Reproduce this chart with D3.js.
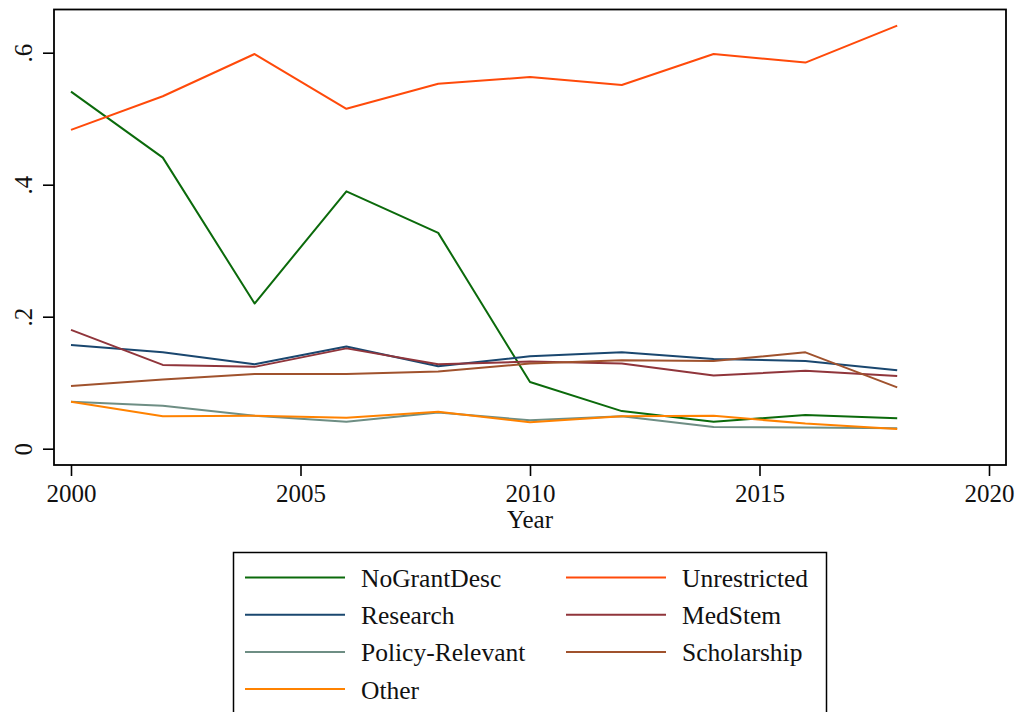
<!DOCTYPE html>
<html>
<head>
<meta charset="utf-8">
<script src="https://cdn.jsdelivr.net/npm/d3@7"></script>
<style>
  html, body { margin: 0; padding: 0; background: #fff; }
  .serif { font-family: "Liberation Serif", "Times New Roman", "DejaVu Serif", serif; }
</style>
</head>
<body>
<svg id="chart" width="1020" height="712"></svg>
<script>
// Survey years
const years = [2000, 2002, 2004, 2006, 2008, 2010, 2012, 2014, 2016, 2018];

// Share of grants by purpose, one array per category
const noGrantDesc    = [0.541, 0.441, 0.220, 0.390, 0.327, 0.101, 0.057, 0.041, 0.051, 0.046];
const unrestricted   = [0.483, 0.534, 0.598, 0.515, 0.553, 0.563, 0.551, 0.598, 0.585, 0.641];
const research       = [0.157, 0.146, 0.128, 0.155, 0.125, 0.140, 0.146, 0.136, 0.133, 0.119];
const medStem        = [0.180, 0.127, 0.124, 0.152, 0.128, 0.132, 0.129, 0.111, 0.118, 0.110];
const policyRelevant = [0.071, 0.065, 0.050, 0.041, 0.055, 0.043, 0.049, 0.033, 0.032, 0.031];
const scholarship    = [0.095, 0.105, 0.113, 0.113, 0.117, 0.129, 0.134, 0.133, 0.146, 0.093];
const other          = [0.071, 0.049, 0.050, 0.047, 0.056, 0.040, 0.049, 0.050, 0.038, 0.030];

// Axis ticks
const xTicks = [2000, 2005, 2010, 2015, 2020];
const yTicks = [0, 0.2, 0.4, 0.6];
const yTickLabels = ["0", ".2", ".4", ".6"];

// Series in drawing / legend order
const series = [
  { name: "NoGrantDesc",     values: noGrantDesc,    color: "#0b6a0b" },
  { name: "Unrestricted",    values: unrestricted,   color: "#ff4a0a" },
  { name: "Research",        values: research,       color: "#1a476f" },
  { name: "MedStem",         values: medStem,        color: "#90353b" },
  { name: "Policy-Relevant", values: policyRelevant, color: "#6e8e84" },
  { name: "Scholarship",     values: scholarship,    color: "#a0522d" },
  { name: "Other",           values: other,          color: "#ff8200" }
];

const svg = d3.select("#chart");

// Plot region
const frame = { left: 54, top: 9.5, right: 1006, bottom: 465 };

const x = d3.scaleLinear().domain([2000, 2020]).range([71, 989]);
const y = d3.scaleLinear().domain([0, 0.6]).range([448.7, 52.7]);

// Series lines
const line = d3.line()
  .x((d, i) => x(years[i]))
  .y(d => y(d));

svg.append("g")
  .selectAll("path")
  .data(series)
  .join("path")
  .attr("d", d => line(d.values))
  .attr("fill", "none")
  .attr("stroke", d => d.color)
  .attr("stroke-width", 2)
  .attr("stroke-linejoin", "round");

// Plot frame
svg.append("rect")
  .attr("x", frame.left)
  .attr("y", frame.top)
  .attr("width", frame.right - frame.left)
  .attr("height", frame.bottom - frame.top)
  .attr("fill", "none")
  .attr("stroke", "#000")
  .attr("stroke-width", 1.8);

// X axis
const xAxis = d3.axisBottom(x)
  .tickValues(xTicks)
  .tickFormat(d3.format("d"))
  .tickSize(11)
  .tickPadding(8);

const gx = svg.append("g")
  .attr("transform", `translate(0,${frame.bottom})`)
  .call(xAxis);
gx.select(".domain").remove();
gx.selectAll(".tick line").attr("stroke", "#000").attr("stroke-width", 1.6);
gx.selectAll(".tick text")
  .attr("class", "serif")
  .attr("fill", "#111")
  .style("font-size", "25px");

// Y axis
const yAxis = d3.axisLeft(y)
  .tickValues(yTicks)
  .tickFormat((d, i) => yTickLabels[i])
  .tickSize(11);

const gy = svg.append("g")
  .attr("transform", `translate(${frame.left},0)`)
  .call(yAxis);
gy.select(".domain").remove();
gy.selectAll(".tick line").attr("stroke", "#000").attr("stroke-width", 1.6);
gy.selectAll(".tick text")
  .attr("class", "serif")
  .attr("x", null)
  .attr("dy", null)
  .attr("fill", "#111")
  .attr("text-anchor", "middle")
  .attr("transform", "translate(-22,0) rotate(-90)")
  .style("font-size", "25px");

// X axis title
svg.append("text")
  .attr("class", "serif")
  .attr("x", (frame.left + frame.right) / 2)
  .attr("y", 528)
  .attr("text-anchor", "middle")
  .attr("fill", "#111")
  .style("font-size", "25px")
  .text("Year");

// Legend
const legend = svg.append("g");
legend.append("rect")
  .attr("x", 233.5)
  .attr("y", 552.5)
  .attr("width", 593)
  .attr("height", 200)
  .attr("fill", "#fff")
  .attr("stroke", "#000")
  .attr("stroke-width", 1.5);

const colX = [245, 566];
const rowY = 577.5;
const rowStep = 37.2;

const items = legend.selectAll("g.item")
  .data(series)
  .join("g")
  .attr("class", "item")
  .attr("transform", (d, i) => `translate(${colX[i % 2]},${rowY + Math.floor(i / 2) * rowStep})`);

items.append("line")
  .attr("x1", 0).attr("x2", 100)
  .attr("y1", 0).attr("y2", 0)
  .attr("stroke", d => d.color)
  .attr("stroke-width", 2);

items.append("text")
  .attr("class", "serif")
  .attr("x", 116)
  .attr("y", 9.5)
  .attr("fill", "#111")
  .style("font-size", "25.5px")
  .text(d => d.name);
</script>
</body>
</html>
